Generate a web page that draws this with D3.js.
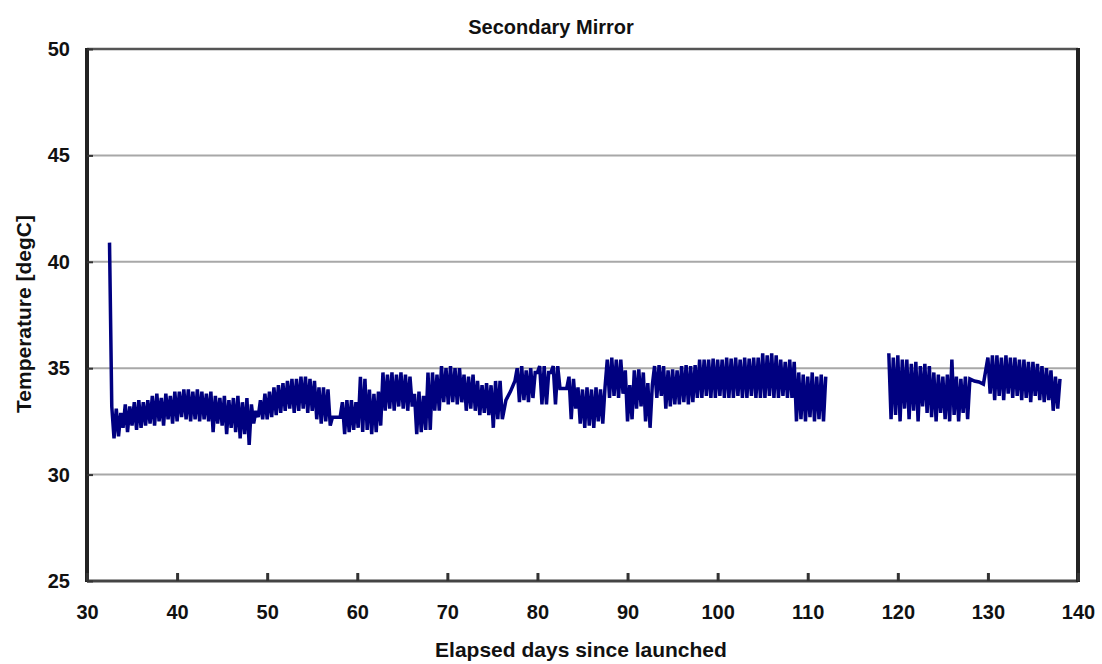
<!DOCTYPE html>
<html><head><meta charset="utf-8">
<script src="https://cdn.jsdelivr.net/npm/d3@7"></script>
<style>body{margin:0;background:#fff}svg text{font-family:"Liberation Sans",Arial,sans-serif;font-weight:bold;fill:#111}</style>
</head><body><svg id="c" width="1102" height="664"></svg>
<script>
const title = "Secondary Mirror";
const xTitle = "Elapsed days since launched";
const yTitle = "Temperature [degC]";
const xTicks = [30,40,50,60,70,80,90,100,110,120,130,140];
const yTicks = [25,30,35,40,45,50];
const gridValues = [30,35,40,45];

// Runs of samples: [startDay, stepDays, values...]
const run1 = [32.5, 0.25, [40.9,33.2,
 31.7,33.1,31.8,32.9, 32.2,33.3,32.0,33.2, 32.3,33.4,32.1,33.5, 32.2,33.4,32.3,33.5,
 32.4,33.7,32.3,33.8, 32.5,33.6,32.3,33.8, 32.6,33.7,32.4,33.9, 32.5,33.9,32.7,34.0,
 32.6,34.0,32.5,33.9, 32.6,34.0,32.5,33.9, 32.6,33.8,32.5,33.9, 32.0,33.7,32.4,33.6,
 32.3,33.7,31.9,33.5, 32.2,33.6,32.0,33.7, 31.7,33.4,31.9,33.6, 31.4,33.3,32.4,33.0,
 32.7,33.5,32.6,33.8, 32.6,33.9,32.7,34.1, 32.8,34.2,32.9,34.3, 33.0,34.4,33.1,34.5,
 32.9,34.5,33.0,34.6, 33.1,34.6,32.9,34.5, 33.0,34.4,32.6,34.1, 32.4,34.1,32.5,34.0,
 32.3,32.7]];
const run2 = [58.1, 0.25, [32.7,33.4,31.9,33.5, 32.0,33.5,32.1,33.4,32.2,
 34.6,32.0,34.5,32.1, 34.0,31.9,33.8,32.0,33.9,32.3,
 34.8,33.0,34.7,33.1,34.8,33.0, 34.7,33.2,34.8,33.1,34.7,33.0,34.6,33.2,
 33.8,31.9,33.9,32.0,33.7,32.1, 34.8,32.1,34.8,33.0,34.7,33.0,
 35.1,33.4,35.0,33.3,35.1,33.4,35.0,33.3,35.0,33.4,
 34.7,33.0,34.6,33.1,34.7,33.0, 34.4,32.8,34.2,32.9,34.3,32.8,
 34.2,32.2,34.4,32.6,34.4,32.6]];
const run3 = [76.5, 0.5, [33.5,33.9,34.4]];
const run4 = [77.75, 0.25, [35.0,33.4,35.1,33.5,34.9,33.4,35.0,33.6,
 34.8,34.8,35.1,33.3,35.1,33.3,34.8,34.8,35.1,33.3,35.1,34.05,34.05,34.05,34.05,
 34.6,32.6,34.5,33.1,
 34.1,32.4,34.0,32.2,34.1,32.3,34.0,32.2,34.1,32.5,34.0,32.4,34.1,
 35.4,33.6,35.5,33.7,35.4,33.6,35.4,33.8,
 34.9,32.5,34.2,32.6, 34.9,33.1,34.95,33.2,34.8,
 32.5,34.3,32.2,34.2, 35.1,33.6,35.15,33.7,35.1,
 33.1,34.9,33.2,34.95,33.3,34.9, 33.3,35.1,33.4,35.15,33.3,35.1,33.4,35.15,
 33.6,35.4,33.6,35.4,33.7,35.4,33.6,35.45,33.6,35.4,33.7,35.4,
 33.6,35.5,33.6,35.45,33.6,35.5,33.7,35.4,33.6,35.5,33.6,35.45,33.7,35.5,33.6,35.5,
 33.6,35.7,33.6,35.6,33.7,35.7,33.6,35.6,
 33.6,35.4,33.7,35.3,33.6,35.4,33.6,35.3,
 32.5,34.8,32.6,34.7,32.5,34.6,32.7,34.8,32.5,34.6,32.6,34.7,
 32.5,34.6]];
// after data gap
const run5 = [119.0, 0.25, [35.7,32.6,35.5,32.8,35.6,32.5,35.4,
 33.1,35.4,32.6,35.2,33.0,35.3,32.5,35.1,33.2,35.2,32.9,35.1,
 32.7,34.8,32.5,34.7,32.9,34.6,32.6,34.7,32.5,35.4,32.8,34.6,32.5,34.5,32.9,34.6,32.6]];
const run6 = [128.0, 0.5, [34.5,34.4,34.35,34.25]];
const run7 = [130.0, 0.25, [35.5,33.8,35.6,33.5,35.6,33.7,35.5,33.5,35.6,33.8,35.5,33.6,
 35.5,33.7,35.4,33.5,35.4,33.6,35.3,33.4,35.3,33.7,35.2,33.5,35.1,33.4,35.0,33.5,34.9,
 33.0,34.6,33.1,34.5]];
const pieces = [[run1,run2,run3,run4],[run5,run6,run7]];

const svg = d3.select("#c");
const L=87,R=1078,T=49,B=581;
const x = d3.scaleLinear().domain([30,140]).range([L,R]);
const y = d3.scaleLinear().domain([25,50]).range([B,T]);

// grid
svg.append("g").selectAll("line").data(gridValues).join("line")
 .attr("x1",L).attr("x2",R).attr("y1",d=>y(d)).attr("y2",d=>y(d))
 .attr("stroke","#a8a8a8").attr("stroke-width",2);

// data
const toPts = runs => runs.flatMap(([s,st,v]) => v.map((t,i)=>[s+i*st,t]));
const line = d3.line().x(d=>x(d[0])).y(d=>y(d[1]));
svg.append("g").selectAll("path").data(pieces.map(toPts)).join("path")
 .attr("d",line).attr("fill","none").attr("stroke","#000080").attr("stroke-width",3.5)
 .attr("stroke-linejoin","miter").attr("stroke-miterlimit",2);

// frame
svg.append("line").attr("x1",L).attr("x2",R).attr("y1",T).attr("y2",T).attr("stroke","#555").attr("stroke-width",2.5);
svg.append("line").attr("x1",L).attr("x2",R).attr("y1",B).attr("y2",B).attr("stroke","#444").attr("stroke-width",3);
svg.append("line").attr("x1",L).attr("x2",L).attr("y1",T-1).attr("y2",B+1).attr("stroke","#222").attr("stroke-width",4);
svg.append("line").attr("x1",R).attr("x2",R).attr("y1",T-1).attr("y2",B+1).attr("stroke","#222").attr("stroke-width",4);

// axes
const xa = svg.append("g").attr("transform",`translate(0,${B})`)
 .call(d3.axisBottom(x).tickValues(xTicks).tickFormat(d3.format("d")).tickSizeInner(-8).tickSizeOuter(0).tickPadding(24));
xa.select(".domain").remove();
xa.selectAll("line").attr("stroke","#333").attr("stroke-width",3);
xa.selectAll("text").attr("font-size",20).attr("fill","#111");
const ya = svg.append("g").attr("transform",`translate(${L},0)`)
 .call(d3.axisLeft(y).tickValues(yTicks).tickFormat(d3.format("d")).tickSizeInner(-6).tickSizeOuter(0).tickPadding(17));
ya.select(".domain").remove();
ya.selectAll("line").attr("stroke","#333").attr("stroke-width",2);
ya.selectAll("text").attr("font-size",20).attr("fill","#111");

svg.append("text").attr("x",551).attr("y",34).attr("text-anchor","middle").attr("font-size",20).text(title);
svg.append("text").attr("x",581).attr("y",657).attr("text-anchor","middle").attr("font-size",21).text(xTitle);
svg.append("text").attr("transform",`translate(31,314) rotate(-90)`).attr("text-anchor","middle").attr("font-size",21).text(yTitle);
</script></body></html>
